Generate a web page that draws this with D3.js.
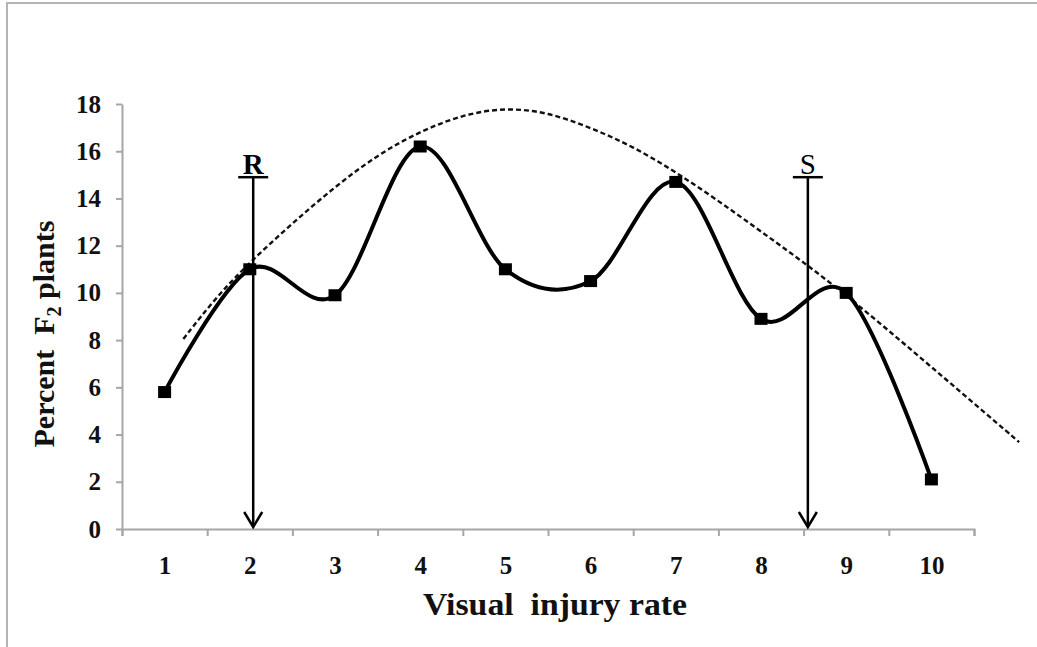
<!DOCTYPE html>
<html>
<head>
<meta charset="utf-8">
<script src="https://cdn.jsdelivr.net/npm/d3@7"></script>
<style>
  html, body { margin: 0; padding: 0; background: #fff; }
  svg { display: block; }
  text { font-family: "Liberation Serif", "Times New Roman", Times, serif; }
</style>
</head>
<body>
<svg id="chart" width="1037" height="647"></svg>
<script>
// ---- data ----
const categories = [1, 2, 3, 4, 5, 6, 7, 8, 9, 10];
const percentF2 = [5.8, 11.0, 9.9, 16.2, 11.0, 10.5, 14.7, 8.9, 10.0, 2.1];
const yTicks = [0, 2, 4, 6, 8, 10, 12, 14, 16, 18];
// dashed trend curve (x in rating units)
const trendX = [1.22, 1.6, 2.0, 2.5, 3.0, 3.5, 4.0, 4.5, 5.0, 5.5, 6.0, 6.5, 7.0, 7.5, 8.0, 8.5, 9.0, 9.5, 10.0, 10.5, 11.03];
const trendY = [8.05, 9.8, 11.3, 12.95, 14.5, 15.85, 16.85, 17.55, 17.85, 17.65, 17.0, 16.2, 15.12, 13.9, 12.6, 11.3, 9.9, 8.4, 6.86, 5.32, 3.68];
// R / S markers
const arrowLabels = ["R", "S"];
const arrowX = [2.04, 8.55];
const arrowTop = [14.9, 14.9];
const xTitle = "Visual  injury rate";

// ---- layout ----
const FONT = '"Liberation Serif", "Times New Roman", Times, serif';
const svg = d3.select("#chart");
const x = d3.scaleLinear().domain([0.5, 10.5]).range([122, 974]);
const y = d3.scaleLinear().domain([0, 18]).range([529, 104]);
const axisColor = "#a6a6a6";

// outer frame (only top and left visible)
svg.append("path")
  .attr("d", "M7,650 V3 H1040")
  .attr("fill", "none")
  .attr("stroke", "#b4b4b4")
  .attr("stroke-width", 2);

// x axis: line + boundary ticks
const boundaries = d3.range(0.5, 10.51, 1);
const gx = svg.append("g").attr("transform", `translate(0,${y(0)})`)
  .call(d3.axisBottom(x).tickValues(boundaries).tickFormat("").tickSize(7).tickSizeOuter(7));
gx.selectAll("path, line").attr("stroke", axisColor).attr("stroke-width", 2);

// x labels
const gxl = svg.append("g").attr("transform", `translate(0,${y(0)})`)
  .call(d3.axisBottom(x).tickValues(categories).tickFormat(d3.format("d")).tickSize(0).tickPadding(27));
gxl.select(".domain").remove();
gxl.selectAll("text")
  .style("font-family", FONT)
  .attr("font-weight", "bold")
  .attr("font-size", 25)
  .attr("fill", "#111");

// y axis
const gy = svg.append("g").attr("transform", `translate(${x(0.5)},0)`)
  .call(d3.axisLeft(y).tickValues(yTicks).tickSize(6).tickSizeOuter(0).tickPadding(15));
gy.selectAll("path, line").attr("stroke", axisColor).attr("stroke-width", 2);
gy.selectAll("text")
  .style("font-family", FONT)
  .attr("font-weight", "bold")
  .attr("font-size", 25)
  .attr("fill", "#111");

// axis titles
svg.append("text")
  .attr("x", 555).attr("y", 615)
  .attr("text-anchor", "middle")
  .style("font-family", FONT)
  .attr("font-weight", "bold")
  .attr("font-size", 31)
  .attr("textLength", 264)
  .attr("lengthAdjust", "spacingAndGlyphs")
  .attr("fill", "#111")
  .style("white-space", "pre")
  .text(xTitle);

const yt = svg.append("text")
  .attr("transform", "translate(54,334) rotate(-90)")
  .attr("text-anchor", "middle")
  .style("font-family", FONT)
  .attr("font-weight", "bold")
  .attr("font-size", 30)
  .attr("fill", "#111")
  .style("white-space", "pre");
yt.append("tspan").text("Percent  F");
yt.append("tspan").attr("font-size", 20).attr("dy", 7).text("2");
yt.append("tspan").attr("dy", -7).text(" plants");

// dashed trend curve
const trendPts = trendX.map((d, i) => [d, trendY[i]]);
svg.append("path")
  .datum(trendPts)
  .attr("fill", "none")
  .attr("stroke", "#111")
  .attr("stroke-width", 2.4)
  .attr("stroke-dasharray", "5,3")
  .attr("d", d3.line().x(d => x(d[0])).y(d => y(d[1])).curve(d3.curveBasis));

// R / S arrows
arrowLabels.forEach((lab, i) => {
  const ax = x(arrowX[i]);
  const top = y(arrowTop[i]);
  const bot = y(0) - 2;
  const g = svg.append("g").attr("stroke", "#000").attr("stroke-width", 2.5).attr("fill", "none");
  g.append("line").attr("x1", ax).attr("x2", ax).attr("y1", top).attr("y2", bot);
  g.append("line").attr("x1", ax - 15).attr("x2", ax + 15).attr("y1", top).attr("y2", top);
  g.append("path").attr("d", `M${ax - 9},${bot - 15} L${ax},${bot} L${ax + 9},${bot - 15}`);
  svg.append("text")
    .attr("x", ax).attr("y", top - 3)
    .attr("text-anchor", "middle")
    .style("font-family", FONT)
    .attr("font-weight", i === 0 ? "bold" : "normal")
    .attr("font-size", 29)
    .attr("fill", "#000")
    .text(lab);
});

// main series
const pts = categories.map((c, i) => [c, percentF2[i]]);
svg.append("path")
  .datum(pts)
  .attr("fill", "none")
  .attr("stroke", "#000")
  .attr("stroke-width", 4)
  .attr("stroke-linejoin", "round")
  .attr("d", d3.line().x(d => x(d[0])).y(d => y(d[1])).curve(d3.curveCardinal.tension(0)));

svg.append("g").selectAll("rect")
  .data(pts)
  .join("rect")
  .attr("x", d => x(d[0]) - 6.5)
  .attr("y", d => y(d[1]) - 6)
  .attr("width", 13)
  .attr("height", 12)
  .attr("fill", "#000");
</script>
</body>
</html>
